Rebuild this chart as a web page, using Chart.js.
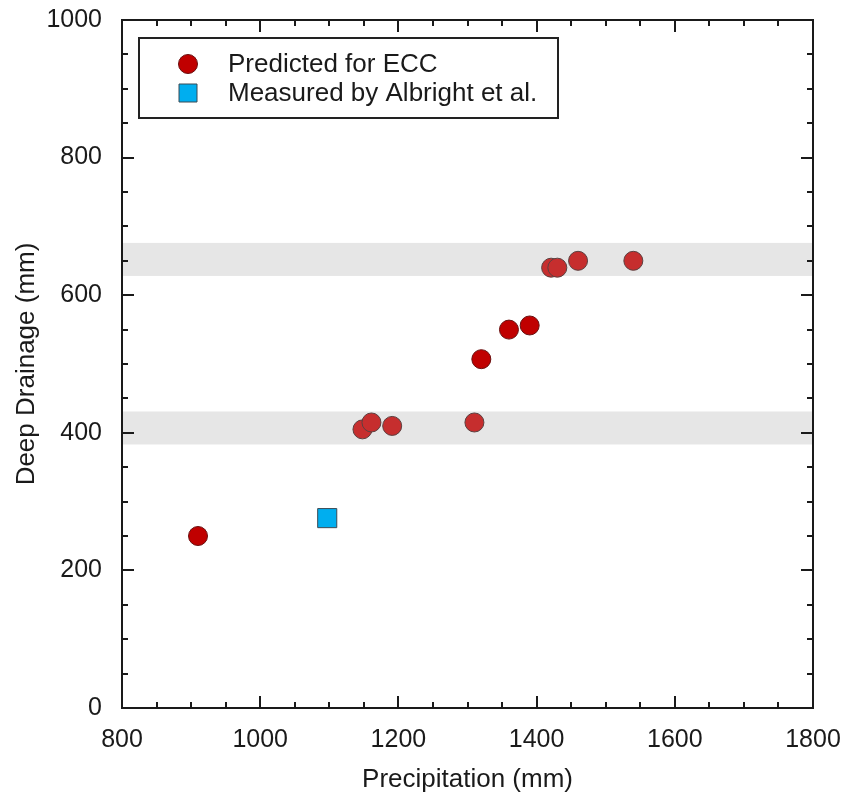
<!DOCTYPE html>
<html>
<head>
<meta charset="utf-8">
<script src="https://cdn.jsdelivr.net/npm/chart.js@4.4.1/dist/chart.umd.min.js"></script>
<style>
  html, body { margin: 0; padding: 0; background: #fff; }
  #wrap { width: 847px; height: 795px; }
</style>
</head>
<body>
<div id="wrap"><canvas id="myChart" width="847" height="795"></canvas></div>
<script>
// values
const eccPrecip = [910, 1148, 1161, 1191, 1310, 1320, 1360, 1390, 1421, 1430, 1460, 1540];
const eccDrainage = [250, 405, 415, 410, 415, 507, 550, 556, 640, 640, 650, 650];
const albrightPrecip = [1097];
const albrightDrainage = [276];
const bandLow = [383, 628];
const bandHigh = [431, 676];
const xTicks = [800, 1000, 1200, 1400, 1600, 1800];
const yTicks = [0, 200, 400, 600, 800, 1000];

const FONT = "'Liberation Sans', Arial, Helvetica, sans-serif";
const INK = '#1a1a1a';

// some of the predicted points are a deeper red in the original
const deepRed = [910, 1320, 1360, 1390];
const eccFill = eccPrecip.map(p => deepRed.includes(p) ? '#c00000' : '#c62e2e');
const eccEdge = eccPrecip.map(p => deepRed.includes(p) ? '#6a1010' : '#5c4040');

// bands, frame, inward ticks and boxed legend
const framePlugin = {
  id: 'framePlugin',
  beforeDatasetsDraw(chart) {
    const { ctx, chartArea: a, scales: { y } } = chart;
    ctx.save();
    ctx.fillStyle = '#e6e6e6';
    bandLow.forEach((lo, i) => {
      const top = y.getPixelForValue(bandHigh[i]);
      const bot = y.getPixelForValue(lo);
      ctx.fillRect(a.left, top, a.right - a.left, bot - top);
    });
    ctx.restore();
  },
  afterDatasetsDraw(chart) {
    const { ctx, chartArea: a, scales: { x, y } } = chart;
    ctx.save();
    ctx.strokeStyle = INK;
    ctx.lineWidth = 2;

    // ticks on all four sides, pointing in
    ctx.beginPath();
    for (let v = x.min + 50; v < x.max; v += 50) {
      const px = Math.round(x.getPixelForValue(v));
      const len = v % 200 === 0 ? 12 : 6;
      ctx.moveTo(px, a.bottom); ctx.lineTo(px, a.bottom - len);
      ctx.moveTo(px, a.top); ctx.lineTo(px, a.top + len);
    }
    for (let v = y.min + 50; v < y.max; v += 50) {
      const py = Math.round(y.getPixelForValue(v));
      const len = v % 200 === 0 ? 12 : 6;
      ctx.moveTo(a.left, py); ctx.lineTo(a.left + len, py);
      ctx.moveTo(a.right, py); ctx.lineTo(a.right - len, py);
    }
    ctx.stroke();
    ctx.strokeRect(a.left, a.top, a.right - a.left, a.bottom - a.top);

    // legend box
    const bx = 139, by = 38, bw = 419, bh = 80;
    ctx.fillStyle = '#fff';
    ctx.fillRect(bx, by, bw, bh);
    ctx.strokeStyle = '#222';
    ctx.strokeRect(bx, by, bw, bh);

    ctx.font = '26px ' + FONT;
    ctx.textBaseline = 'middle';
    chart.data.datasets.forEach((ds, i) => {
      const cy = 64 + i * 29;
      const fill = Array.isArray(ds.backgroundColor) ? ds.backgroundColor[0] : ds.backgroundColor;
      const edge = Array.isArray(ds.borderColor) ? ds.borderColor[0] : ds.borderColor;
      ctx.fillStyle = fill;
      ctx.strokeStyle = edge;
      ctx.lineWidth = 1;
      ctx.beginPath();
      if (ds.pointStyle === 'rect') {
        ctx.rect(179, cy - 9, 18, 18);
      } else {
        ctx.arc(188, cy, 9.5, 0, Math.PI * 2);
      }
      ctx.fill();
      ctx.stroke();
      ctx.fillStyle = INK;
      ctx.fillText(ds.label, 228, cy + 1);
    });
    ctx.restore();
  }
};

const ctx = document.getElementById('myChart').getContext('2d');
new Chart(ctx, {
  type: 'scatter',
  data: {
    datasets: [
      {
        label: 'Predicted for ECC',
        data: eccPrecip.map((p, i) => ({ x: p, y: eccDrainage[i] })),
        pointStyle: 'circle',
        pointRadius: 9.5,
        backgroundColor: eccFill,
        borderColor: eccEdge,
        borderWidth: 1
      },
      {
        label: 'Measured by Albright et al.',
        data: albrightPrecip.map((p, i) => ({ x: p, y: albrightDrainage[i] })),
        pointStyle: 'rect',
        pointRadius: 13.5,
        backgroundColor: '#00aeef',
        borderColor: '#3a4a55',
        borderWidth: 1
      }
    ]
  },
  options: {
    responsive: false,
    animation: false,
    events: [],
    layout: { padding: { top: 20, right: 34, left: 0, bottom: 0 } },
    plugins: {
      legend: { display: false },
      tooltip: { enabled: false }
    },
    scales: {
      x: {
        type: 'linear',
        min: 800,
        max: 1800,
        afterBuildTicks: s => { s.ticks = xTicks.map(v => ({ value: v })); },
        afterFit: s => { s.height = 87; s.paddingLeft = 0; s.paddingRight = 0; },
        grid: { display: false, drawTicks: false },
        border: { display: false },
        ticks: {
          color: INK, padding: 17, maxRotation: 0,
          font: { family: FONT, size: 25 },
          callback: v => String(v)
        },
        title: {
          display: true,
          text: 'Precipitation (mm)',
          color: INK,
          font: { family: FONT, size: 26 },
          padding: { top: 0, bottom: 0 }
        }
      },
      y: {
        type: 'linear',
        min: 0,
        max: 1000,
        afterBuildTicks: s => { s.ticks = yTicks.map(v => ({ value: v })); },
        afterFit: s => { s.width = 122; s.paddingTop = 0; s.paddingBottom = 0; },
        grid: { display: false, drawTicks: false },
        border: { display: false },
        ticks: {
          color: INK, padding: 20,
          font: { family: FONT, size: 25 },
          callback: v => String(v)
        },
        title: {
          display: true,
          text: 'Deep Drainage (mm)',
          color: INK,
          font: { family: FONT, size: 26 },
          padding: { top: 11, bottom: 0 }
        }
      }
    }
  },
  plugins: [framePlugin]
});
</script>
</body>
</html>
